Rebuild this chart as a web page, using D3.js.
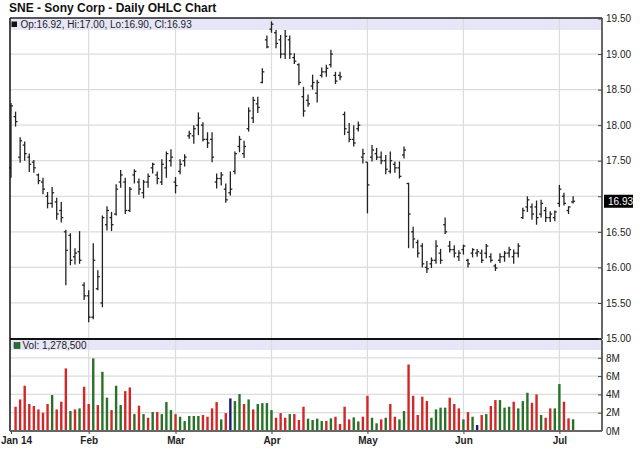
<!DOCTYPE html>
<html><head><meta charset="utf-8">
<script src="https://cdn.jsdelivr.net/npm/d3@7"></script>
<style>body{margin:0;background:#fff;} svg{display:block;font-family:"Liberation Sans",Arial,sans-serif;}</style>
</head><body><svg id="c" width="640" height="468"></svg>
<script>
// ---- data ----
const opens  = [17.40,18.12,17.55,17.72,17.55,17.48,17.30,17.20,17.00,16.90,16.92,16.80,16.50,16.45,16.15,16.22,15.75,15.60,15.30,15.70,
15.50,16.60,16.70,16.75,17.20,17.20,16.80,17.30,17.20,17.05,17.20,17.40,17.30,17.20,17.40,17.50,17.20,17.35,17.50,17.85,
17.85,18.00,18.00,17.80,17.80,17.20,17.25,17.10,17.05,17.35,17.70,17.60,17.95,18.10,18.30,18.60,19.20,19.35,19.30,19.20,
19.00,19.20,18.95,18.85,18.40,18.35,18.55,18.45,18.70,18.75,18.85,18.70,18.70,18.15,17.90,17.80,17.95,17.55,17.48,17.55,
17.60,17.55,17.50,17.35,17.45,17.40,17.58,17.18,16.50,16.35,16.30,16.00,16.05,16.10,16.20,16.60,16.30,16.25,16.15,16.25,
16.10,16.20,16.20,16.20,16.20,16.15,16.02,16.10,16.15,16.20,16.15,16.20,16.70,16.85,16.85,16.85,16.75,16.80,16.70,16.70,
16.90,17.00,16.80,16.92];
const highs  = [18.31,18.19,17.83,17.77,17.60,17.51,17.32,17.26,17.06,17.13,16.98,16.92,16.53,16.48,16.27,16.51,15.79,15.68,16.34,15.96,
16.73,16.86,16.78,17.17,17.37,17.26,17.13,17.38,17.25,17.23,17.32,17.47,17.35,17.52,17.63,17.66,17.27,17.52,17.59,17.92,
18.00,18.18,18.04,17.90,17.90,17.32,17.34,17.18,17.35,17.63,17.85,17.78,18.25,18.40,18.40,18.80,19.26,19.46,19.34,19.27,
19.34,19.26,19.01,18.87,18.54,18.43,18.71,18.64,18.81,18.85,19.06,18.75,18.75,18.19,18.03,18.00,18.05,17.67,17.48,17.72,
17.68,17.63,17.58,17.63,17.49,17.49,17.70,17.19,16.57,16.39,16.34,16.09,16.14,16.38,16.26,16.70,16.37,16.31,16.24,16.32,
16.12,16.27,16.26,16.25,16.33,16.20,16.05,16.20,16.23,16.29,16.25,16.34,16.84,17.00,16.90,16.94,16.95,16.85,16.79,16.80,
17.16,17.05,16.86,17.00];
const lows   = [17.26,17.98,17.47,17.50,17.34,17.33,17.17,17.03,16.83,16.84,16.67,16.63,15.75,16.03,16.04,16.05,15.54,15.23,15.27,15.68,
15.44,16.52,16.51,16.73,17.12,16.75,16.78,17.18,17.02,16.97,17.12,17.32,17.17,17.16,17.26,17.42,17.04,17.31,17.42,17.81,
17.74,17.86,17.77,17.68,17.48,17.11,17.15,16.91,17.01,17.31,17.62,17.54,17.91,18.03,18.17,18.59,19.08,19.30,19.08,18.94,
18.93,18.93,18.86,18.56,18.12,18.26,18.50,18.32,18.67,18.68,18.81,18.58,18.63,17.86,17.76,17.70,17.91,17.46,16.76,17.49,
17.51,17.45,17.31,17.32,17.33,17.25,17.53,16.27,16.27,16.14,16.00,15.92,15.99,16.05,16.05,16.47,16.21,16.14,16.09,16.18,
16.00,16.14,16.15,16.06,16.13,16.07,15.95,16.06,16.08,16.14,16.05,16.14,16.68,16.78,16.67,16.60,16.70,16.64,16.64,16.65,
16.85,16.87,16.75,16.90];
const closes = [18.27,18.05,17.78,17.60,17.45,17.40,17.22,17.10,16.90,17.05,16.75,16.70,16.24,16.10,16.20,16.10,15.60,15.30,16.10,15.87,
16.70,16.80,16.60,17.10,17.30,16.80,17.10,17.35,17.10,17.20,17.28,17.45,17.25,17.45,17.60,17.55,17.15,17.45,17.55,17.88,
17.95,18.10,17.80,17.75,17.55,17.25,17.30,16.95,17.10,17.60,17.80,17.70,18.20,18.35,18.25,18.75,19.10,19.42,19.15,19.00,
19.25,19.00,18.90,18.60,18.20,18.30,18.60,18.60,18.75,18.80,19.00,18.62,18.68,17.95,17.80,17.75,18.00,17.60,17.16,17.65,
17.55,17.50,17.38,17.50,17.40,17.28,17.65,16.75,16.40,16.20,16.05,15.98,16.10,16.30,16.10,16.50,16.25,16.20,16.20,16.30,
16.05,16.25,16.22,16.10,16.30,16.10,15.99,16.15,16.20,16.25,16.20,16.30,16.80,16.95,16.75,16.70,16.90,16.70,16.75,16.78,
17.10,16.90,16.85,16.93];
// volume in millions of shares (first bar hidden behind the axis)
const volumes = [0,2.65,3.45,4.95,2.95,2.73,2.36,2.0,2.95,3.93,2.36,3.2,6.84,2.18,2.36,2.47,4.84,2.95,7.93,2.84,
6.47,3.64,2.29,4.95,2.84,4.36,4.76,1.85,2.76,1.85,1.45,2.07,2.07,1.85,3.16,2.29,1.85,1.56,1.09,1.64,
1.64,1.64,1.75,1.56,2.47,3.16,1.27,1.96,3.56,3.27,4.04,2.95,3.45,2.36,2.95,3.05,3.05,2.29,1.45,1.96,
1.45,1.85,1.85,1.2,2.65,1.35,1.2,1.35,1.09,1.09,1.38,1.56,0.76,2.65,1.27,1.49,1.05,1.56,3.85,1.45,
0.84,1.27,1.45,2.95,1.56,1.27,2.18,7.27,3.85,1.75,3.75,3.27,1.45,2.36,2.55,2.55,3.64,2.95,2.47,1.27,
2.07,1.56,0.65,1.75,1.85,2.73,3.38,3.38,2.55,2.65,3.2,2.47,3.27,4.18,3.09,4.0,1.75,1.45,2.47,2.47,
5.13,3.2,1.38,1.28];
// volume bar colour class: g = up, r = down, b = unchanged
const volDir = ["g","r","r","r","r","r","r","r","r","g","r","r","r","g","r","g","r","r","g","r",
"g","g","r","g","g","r","r","g","r","g","r","g","r","g","g","g","r","g","g","g",
"g","g","r","r","r","r","g","r","b","g","g","r","g","r","g","g","g","g","r","r",
"r","g","r","r","r","g","g","g","g","r","g","r","r","r","r","g","g","r","r","g",
"g","r","g","r","r","g","g","r","r","r","r","r","g","g","g","g","r","r","r","g",
"r","g","b","r","g","r","r","g","g","g","r","g","g","g","r","r","g","r","r","g",
"g","r","r","g"];
const monthLabels = ["Jan 14","Feb","Mar","Apr","May","Jun","Jul"];
const monthBars   = [0,17,36,57,78,99,120];
const priceTicks  = [15,15.5,16,16.5,17,17.5,18,18.5,19,19.5];
const volTicks    = [0,2,4,6,8];
const legendText  = "Op:16.92, Hi:17.00, Lo:16.90, Cl:16.93";
const volLegend   = "Vol: 1,278,500";
const lastClose   = 16.93;

// ---- drawing ----
const svg = d3.select("#c");
const L = 10, R = 602, pTop = 18, pBot = 339, vTop = 340, vBot = 431;
const x  = d3.scaleLinear().domain([0,123]).range([11, 573.1]);
const yP = d3.scaleLinear().domain([15,19.5]).range([338.5,18.5]);
const yV = d3.scaleLinear().domain([0,8]).range([431,357.8]);
const colors = {g:"#287228", r:"#d02828", b:"#1c1c78"};
const grid = "#dcdcdc";

svg.append("text").attr("x",9).attr("y",12).attr("font-size",12).attr("font-weight","bold")
   .attr("fill","#111").text("SNE - Sony Corp - Daily OHLC Chart");

// legend bands
svg.append("rect").attr("x",L).attr("y",pTop).attr("width",R-L).attr("height",12).attr("fill","#e6e6f8");
svg.append("rect").attr("x",L).attr("y",vTop).attr("width",R-L).attr("height",10).attr("fill","#e6e6f8");

// grid lines
const gG = svg.append("g").attr("stroke",grid).attr("stroke-width",1.2);
gG.selectAll("line.h").data(priceTicks.filter(d=>d>15 && d<19.5)).enter().append("line")
  .attr("x1",L).attr("x2",R).attr("y1",d=>yP(d)).attr("y2",d=>yP(d));
gG.selectAll("line.hv").data(volTicks.filter(d=>d>0)).enter().append("line")
  .attr("x1",L).attr("x2",R).attr("y1",d=>yV(d)).attr("y2",d=>yV(d));
gG.selectAll("line.v1").data(monthBars.slice(1)).enter().append("line")
  .attr("x1",d=>x(d)).attr("x2",d=>x(d)).attr("y1",pTop).attr("y2",pBot);
gG.selectAll("line.v2").data(monthBars.slice(1)).enter().append("line")
  .attr("x1",d=>x(d)).attr("x2",d=>x(d)).attr("y1",vTop).attr("y2",vBot);

// legends
svg.append("rect").attr("x",11.5).attr("y",21.5).attr("width",5.5).attr("height",5.5).attr("fill","#111");
svg.append("text").attr("x",20.5).attr("y",27.5).attr("font-size",10).attr("fill","#222").text(legendText);
svg.append("rect").attr("x",14).attr("y",342.5).attr("width",6).attr("height",6).attr("fill",colors.g).attr("stroke","#123").attr("stroke-width",0.5);
svg.append("text").attr("x",22.5).attr("y",349).attr("font-size",10).attr("fill","#222").text(volLegend);

// volume bars
const idx = d3.range(opens.length);
svg.append("g").selectAll("rect").data(idx.filter(i=>volumes[i]>0)).enter().append("rect")
  .attr("x",i=>x(i)-1.2).attr("width",2.4)
  .attr("y",i=>yV(volumes[i])).attr("height",i=>yV(0)-yV(volumes[i]))
  .attr("fill",i=>colors[volDir[i]]);

// OHLC bars
const ohlc = svg.append("g").attr("stroke","#222").attr("stroke-width",1.3);
ohlc.selectAll("line.hl").data(idx).enter().append("line")
  .attr("x1",i=>x(i)).attr("x2",i=>x(i)).attr("y1",i=>yP(highs[i])).attr("y2",i=>yP(lows[i]));
ohlc.selectAll("line.o").data(idx).enter().append("line")
  .attr("x1",i=>x(i)-2).attr("x2",i=>x(i)).attr("y1",i=>yP(opens[i])).attr("y2",i=>yP(opens[i]));
ohlc.selectAll("line.c").data(idx).enter().append("line")
  .attr("x1",i=>x(i)).attr("x2",i=>x(i)+2).attr("y1",i=>yP(closes[i])).attr("y2",i=>yP(closes[i]));

// frames
svg.append("line").attr("x1",L).attr("x2",R).attr("y1",pTop).attr("y2",pTop).attr("stroke","#222").attr("stroke-width",1.3);
svg.append("line").attr("x1",L).attr("x2",L).attr("y1",pTop).attr("y2",vBot).attr("stroke","#111").attr("stroke-width",1.5);
svg.append("line").attr("x1",L).attr("x2",R).attr("y1",pBot).attr("y2",pBot).attr("stroke","#111").attr("stroke-width",2);

// right axes
const pAxis = d3.axisRight(yP).tickValues(priceTicks).tickSizeInner(-4).tickSizeOuter(0).tickPadding(4)
  .tickFormat(d => d===17 ? "" : d3.format(".2f")(d));
const gp = svg.append("g").attr("transform",`translate(${R},0)`).call(pAxis);
const vAxis = d3.axisRight(yV).tickValues(volTicks).tickSizeInner(-4).tickSizeOuter(0).tickPadding(4)
  .tickFormat(d => d+"M");
const gv = svg.append("g").attr("transform",`translate(${R},0)`).call(vAxis);
[gp,gv].forEach(g=>{
  g.select(".domain").attr("stroke","#666").attr("stroke-width",2);
  g.selectAll(".tick line").attr("stroke","#444");
  g.selectAll(".tick text").attr("font-size",10).attr("fill","#222").attr("font-family","Liberation Sans, Arial, sans-serif");
});
gp.select(".domain").attr("d",`M0,${pTop}V${pBot}`);
gv.select(".domain").attr("d",`M0,${vTop}V${vBot}`);

// last price marker
const lg = svg.append("g").attr("transform",`translate(${R+2},${yP(lastClose)})`);
lg.append("rect").attr("x",0).attr("y",-6.5).attr("width",29).attr("height",13).attr("fill","#000");
lg.append("text").attr("x",4).attr("y",3.8).attr("font-size",10).attr("fill","#fff").text(d3.format(".2f")(lastClose));

// bottom axis
const xAxis = d3.axisBottom(x).tickValues(monthBars).tickSizeInner(3).tickSizeOuter(0).tickPadding(3)
  .tickFormat((d,i)=>monthLabels[i]);
const gx = svg.append("g").attr("transform",`translate(0,${vBot})`).call(xAxis);
gx.select(".domain").attr("d",`M${L},0H${R}`).attr("stroke","#666").attr("stroke-width",2);
gx.selectAll(".tick line").attr("stroke","#444");
gx.selectAll(".tick text").attr("font-size",10).attr("font-weight","bold").attr("fill","#222")
  .attr("font-family","Liberation Sans, Arial, sans-serif");
// the first label starts at the picture's left edge so it stays readable
gx.selectAll(".tick text").filter((d,i)=>i===0).attr("text-anchor","start").attr("x",-x(0)+0.5);
</script></body></html>
